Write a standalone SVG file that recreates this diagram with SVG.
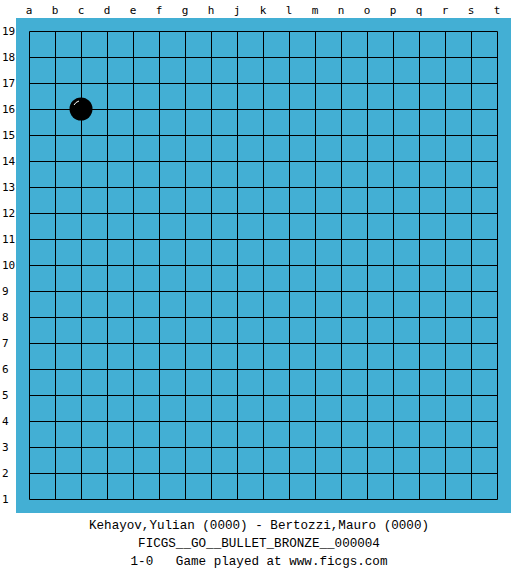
<svg xmlns="http://www.w3.org/2000/svg" width="525" height="575" viewBox="0 0 525 575">
<style>
.lbl{font-family:"DejaVu Sans Mono","Liberation Mono",monospace;font-size:11px;fill:#000}
.col{text-anchor:middle}
.g{stroke:#000;stroke-width:1;fill:none}
.info{font-family:"Liberation Mono","DejaVu Sans Mono",monospace;font-size:12.6px;fill:#000;text-anchor:middle}
</style>
<rect width="525" height="575" fill="#fff"/>
<rect id="board" x="16" y="18" width="495" height="495" fill="#43AFD4"/>
<g id="grid" class="g">
<path d="M29.5 31.5V499.5M55.5 31.5V499.5M81.5 31.5V499.5M107.5 31.5V499.5M133.5 31.5V499.5M159.5 31.5V499.5M185.5 31.5V499.5M211.5 31.5V499.5M237.5 31.5V499.5M263.5 31.5V499.5M289.5 31.5V499.5M315.5 31.5V499.5M341.5 31.5V499.5M367.5 31.5V499.5M393.5 31.5V499.5M419.5 31.5V499.5M445.5 31.5V499.5M471.5 31.5V499.5M497.5 31.5V499.5"/>
<path d="M29.5 31.5H497.5M29.5 57.5H497.5M29.5 83.5H497.5M29.5 109.5H497.5M29.5 135.5H497.5M29.5 161.5H497.5M29.5 187.5H497.5M29.5 213.5H497.5M29.5 239.5H497.5M29.5 265.5H497.5M29.5 291.5H497.5M29.5 317.5H497.5M29.5 343.5H497.5M29.5 369.5H497.5M29.5 395.5H497.5M29.5 421.5H497.5M29.5 447.5H497.5M29.5 473.5H497.5M29.5 499.5H497.5"/>
</g>
<g id="cols" class="lbl col">
<text x="29" y="14">a</text><text x="55" y="14">b</text><text x="81" y="14">c</text><text x="107" y="14">d</text><text x="133" y="14">e</text><text x="159" y="14">f</text><text x="185" y="14">g</text><text x="211" y="14">h</text><text x="237" y="14">j</text><text x="263" y="14">k</text><text x="289" y="14">l</text><text x="315" y="14">m</text><text x="341" y="14">n</text><text x="367" y="14">o</text><text x="393" y="14">p</text><text x="419" y="14">q</text><text x="445" y="14">r</text><text x="471" y="14">s</text><text x="497" y="14">t</text>
</g>
<g id="rows" class="lbl">
<text x="2" y="35">19</text><text x="2" y="61">18</text><text x="2" y="87">17</text><text x="2" y="113">16</text><text x="2" y="139">15</text><text x="2" y="165">14</text><text x="2" y="191">13</text><text x="2" y="217">12</text><text x="2" y="243">11</text><text x="2" y="269">10</text><text x="2" y="295">9</text><text x="2" y="321">8</text><text x="2" y="347">7</text><text x="2" y="373">6</text><text x="2" y="399">5</text><text x="2" y="425">4</text><text x="2" y="451">3</text><text x="2" y="477">2</text><text x="2" y="503">1</text>
</g>
<g id="stone-c16">
<circle cx="81" cy="109" r="11.5" fill="#000"/>
<path d="M74 105 A8 8 0 0 1 79 101" stroke="#fff" stroke-width="1" fill="none"/>
</g>
<g id="info">
<text class="info" x="259" y="529">Kehayov,Yulian (0000) - Bertozzi,Mauro (0000)</text>
<text class="info" x="259" y="547">FICGS__GO__BULLET_BRONZE__000004</text>
<text class="info" x="259" y="565" xml:space="preserve">1-0   Game played at www.ficgs.com</text>
</g>
</svg>
